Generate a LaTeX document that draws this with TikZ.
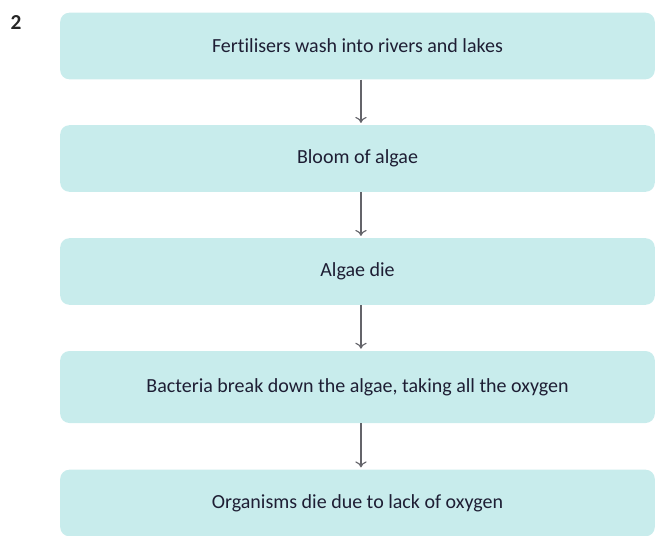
\documentclass[tikz,border=0pt]{standalone}
\usepackage{fontspec}
\setmainfont{Carlito}[Ligatures=NoCommon]
\usepackage{tikz}
\usetikzlibrary{arrows.meta,positioning}
\definecolor{boxfill}{RGB}{200,236,236}
\definecolor{boxtext}{RGB}{30,30,52}
\definecolor{flowgray}{RGB}{100,100,106}

\tikzset{
  stage/.style={rectangle, rounded corners=7pt, fill=boxfill, text=boxtext,
    minimum width=446pt, minimum height=50pt, inner sep=0pt,
    font=\fontsize{15}{17}\selectfont},
  flow/.style={draw=flowgray, line width=0.85pt, -{To[length=4.5pt,width=8.5pt]}}
}

\begin{document}
\begin{tikzpicture}[x=0.75pt,y=-0.75pt]
    \useasboundingbox (0,0) rectangle (655,535);
    \clip (0,0) rectangle (655,535);

    \node[font=\bfseries\fontsize{16}{18}\selectfont, text=black!85] (num) at (16,23) {2};

    \node[stage] (s1) at (357.5,46) {Fertilisers wash into rivers and lakes};
    \node[stage] (s2) at (357.5,158.5) {Bloom of algae};
    \node[stage] (s3) at (357.5,271.5) {Algae die};
    \node[stage, minimum height=54pt] (s4) at (357.5,387) {Bacteria break down the algae, taking all the oxygen};
    \node[stage] (s5) at (357.5,503) {Organisms die due to lack of oxygen};

    \draw[flow] ([xshift=2.6pt]s1.south) -- ([xshift=2.6pt,yshift=1.5pt]s2.north);
    \draw[flow] ([xshift=2.6pt]s2.south) -- ([xshift=2.6pt,yshift=1.5pt]s3.north);
    \draw[flow] ([xshift=2.6pt]s3.south) -- ([xshift=2.6pt,yshift=1.5pt]s4.north);
    \draw[flow] ([xshift=2.6pt]s4.south) -- ([xshift=2.6pt,yshift=1.5pt]s5.north);
  \end{tikzpicture}
\end{document}
